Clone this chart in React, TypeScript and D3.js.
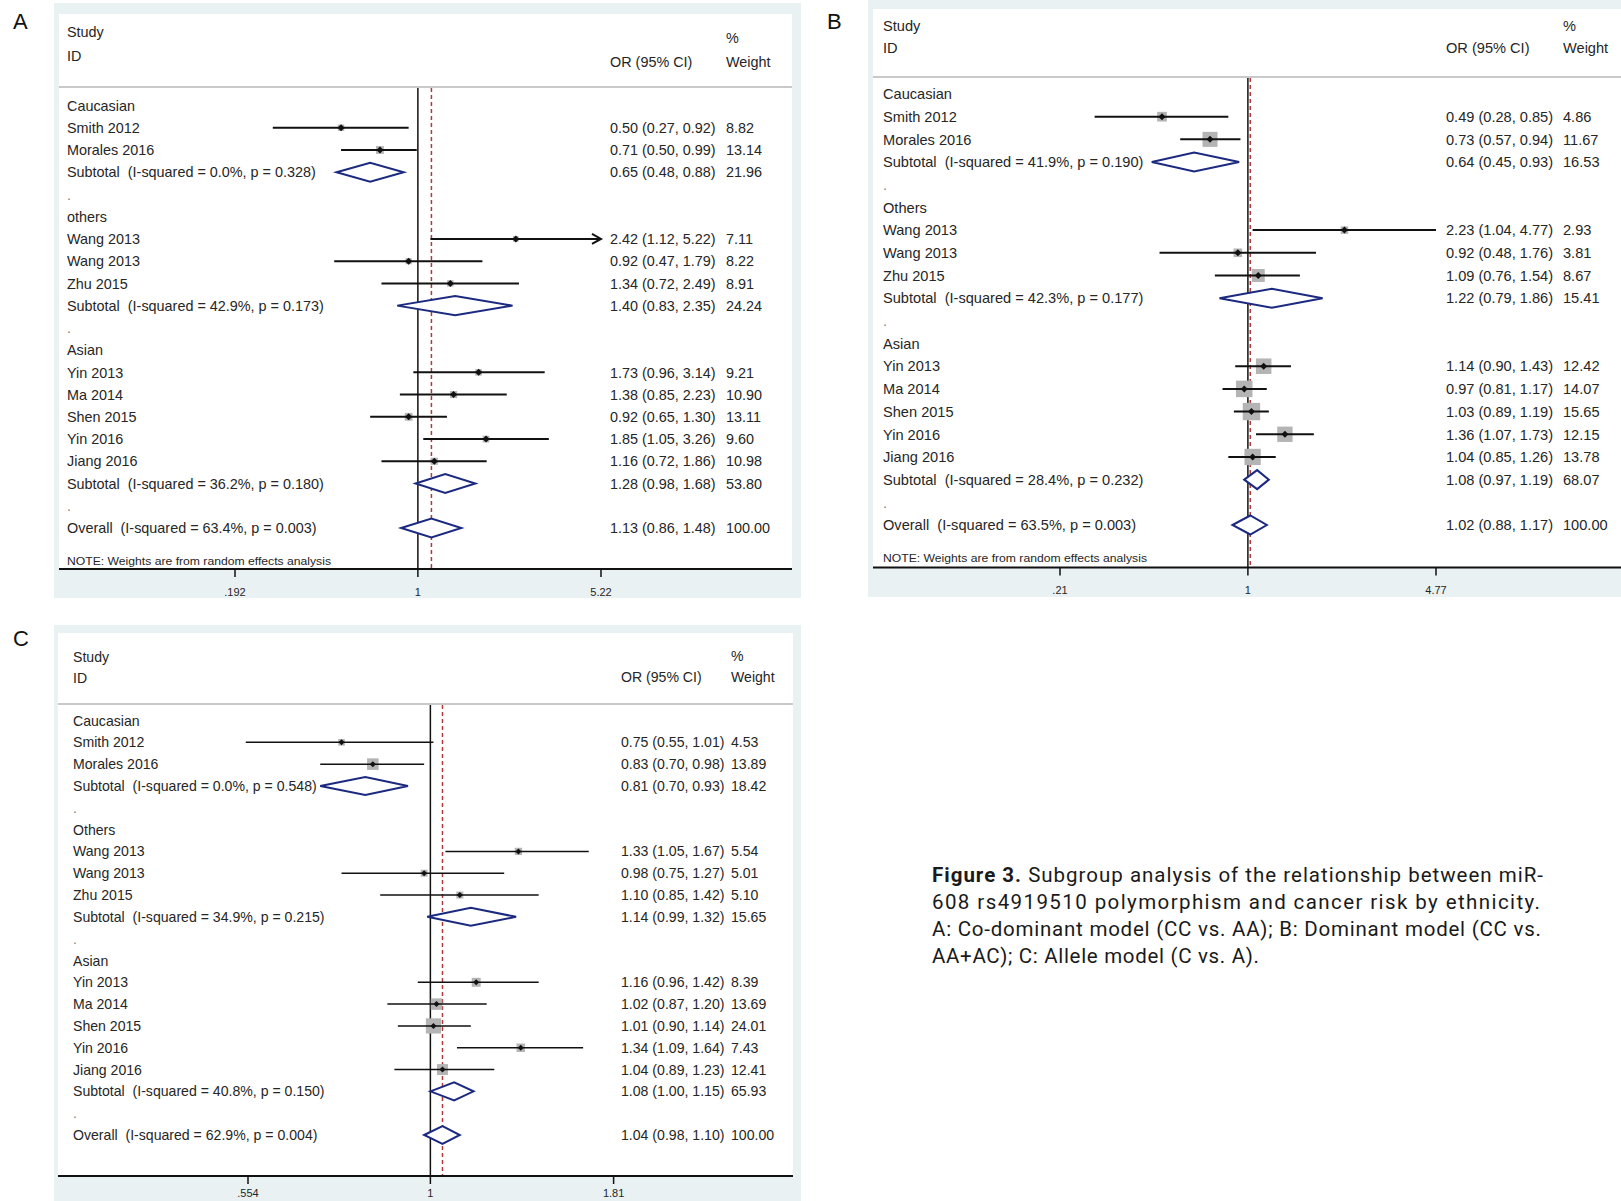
import * as d3 from "d3";
import { useEffect } from "react";

// study labels, shared by the three panels
const groupNamesA = ["Caucasian", "others", "Asian"];
const groupNamesBC = ["Caucasian", "Others", "Asian"];
const studyGroups = [
  ["Smith 2012", "Morales 2016"],
  ["Wang 2013", "Wang 2013", "Zhu 2015"],
  ["Yin 2013", "Ma 2014", "Shen 2015", "Yin 2016", "Jiang 2016"],
];

// A: co-dominant model (CC vs. AA)
const orA = [0.5, 0.71, 2.42, 0.92, 1.34, 1.73, 1.38, 0.92, 1.85, 1.16];
const lowA = [0.27, 0.5, 1.12, 0.47, 0.72, 0.96, 0.85, 0.65, 1.05, 0.72];
const highA = [0.92, 0.99, 5.22, 1.79, 2.49, 3.14, 2.23, 1.3, 3.26, 1.86];
const weightA = [8.82, 13.14, 7.11, 8.22, 8.91, 9.21, 10.9, 13.11, 9.6, 10.98];
const subOrA = [0.65, 1.4, 1.28];
const subLowA = [0.48, 0.83, 0.98];
const subHighA = [0.88, 2.35, 1.68];
const subWeightA = [21.96, 24.24, 53.8];
const subI2A = ["0.0", "42.9", "36.2"];
const subPA = ["0.328", "0.173", "0.180"];
const overallA = [1.13, 0.86, 1.48];
const overallStatA = ["63.4", "0.003"];
const arrowRowsA = [2];
const ticksA = [0.192, 1, 5.22];
const tickLabelsA = [".192", "1", "5.22"];

// B: dominant model (CC vs. AA+AC)
const orB = [0.49, 0.73, 2.23, 0.92, 1.09, 1.14, 0.97, 1.03, 1.36, 1.04];
const lowB = [0.28, 0.57, 1.04, 0.48, 0.76, 0.9, 0.81, 0.89, 1.07, 0.85];
const highB = [0.85, 0.94, 4.77, 1.76, 1.54, 1.43, 1.17, 1.19, 1.73, 1.26];
const weightB = [4.86, 11.67, 2.93, 3.81, 8.67, 12.42, 14.07, 15.65, 12.15, 13.78];
const subOrB = [0.64, 1.22, 1.08];
const subLowB = [0.45, 0.79, 0.97];
const subHighB = [0.93, 1.86, 1.19];
const subWeightB = [16.53, 15.41, 68.07];
const subI2B = ["41.9", "42.3", "28.4"];
const subPB = ["0.190", "0.177", "0.232"];
const overallB = [1.02, 0.88, 1.17];
const overallStatB = ["63.5", "0.003"];
const ticksB = [0.21, 1, 4.77];
const tickLabelsB = [".21", "1", "4.77"];

// C: allele model (C vs. A)
const orC = [0.75, 0.83, 1.33, 0.98, 1.1, 1.16, 1.02, 1.01, 1.34, 1.04];
const lowC = [0.55, 0.7, 1.05, 0.75, 0.85, 0.96, 0.87, 0.9, 1.09, 0.89];
const highC = [1.01, 0.98, 1.67, 1.27, 1.42, 1.42, 1.2, 1.14, 1.64, 1.23];
const weightC = [4.53, 13.89, 5.54, 5.01, 5.1, 8.39, 13.69, 24.01, 7.43, 12.41];
const subOrC = [0.81, 1.14, 1.08];
const subLowC = [0.7, 0.99, 1.0];
const subHighC = [0.93, 1.32, 1.15];
const subWeightC = [18.42, 15.65, 65.93];
const subI2C = ["0.0", "34.9", "40.8"];
const subPC = ["0.548", "0.215", "0.150"];
const overallC = [1.04, 0.98, 1.1];
const overallStatC = ["62.9", "0.004"];
const ticksC = [0.554, 1, 1.81];
const tickLabelsC = [".554", "1", "1.81"];

const captionLines = [
  "Subgroup analysis of the relationship between miR-",
  "608 rs4919510 polymorphism and cancer risk by ethnicity.",
  "A: Co-dominant model (CC vs. AA); B: Dominant model (CC vs.",
  "AA+AC); C: Allele model (C vs. A).",
];
const captionWidths = [611, 608, 609, 327];

const FONT = "'Liberation Sans', Arial, sans-serif";
const fmt = d3.format(".2f");

function Panel({ d, L }) {
  const x = d3.scaleLog().domain([d.ticks[0], d.ticks[2]]).range(L.range);
  const rowY = d3.scaleLinear().domain([0, 19]).range([L.rowFirst, L.rowLast]);

  // build the row list
  const rows = [];
  let k = 0;
  studyGroups.forEach((g, gi) => {
    rows.push({ type: "group", label: d.groups[gi] });
    g.forEach((name) => {
      rows.push({ type: "study", label: name, i: k });
      k++;
    });
    rows.push({
      type: "sub",
      label: `Subtotal  (I-squared = ${d.subI2[gi]}%, p = ${d.subP[gi]})`,
      or: d.subOr[gi], lo: d.subLo[gi], hi: d.subHi[gi], w: d.subW[gi],
    });
    rows.push({ type: "dot", label: "." });
  });
  rows.push({
    type: "sub",
    label: `Overall  (I-squared = ${d.overallStat[0]}%, p = ${d.overallStat[1]})`,
    or: d.overall[0], lo: d.overall[1], hi: d.overall[2], w: 100,
  });

  const txt = { fontFamily: FONT, fontSize: L.fs, fill: "#262626", whiteSpace: "pre" as const };
  const x1 = x(1);
  const xOverall = x(d.overall[0]);
  const diamond = (cx, cy, r) => `M${cx - r},${cy}L${cx},${cy - r}L${cx + r},${cy}L${cx},${cy + r}Z`;

  return (
    <g>
      <rect x={L.ox0} y={L.oy0} width={L.ox1 - L.ox0} height={L.oy1 - L.oy0} fill="#e9f1f3" />
      <rect x={L.wx0} y={L.wy0} width={L.wx1 - L.wx0} height={L.axisY - L.wy0} fill="#ffffff" />
      <text x={L.letterX} y={L.letterY} style={{ fontFamily: FONT, fontSize: 22, fill: "#111" }}>{L.letter}</text>

      <text x={L.labelX} y={L.studyY} dy="0.36em" style={txt}>Study</text>
      <text x={L.labelX} y={L.idY} dy="0.36em" style={txt}>ID</text>
      <text x={L.orX} y={L.orY} dy="0.36em" style={txt}>OR (95% CI)</text>
      <text x={L.wX} y={L.pctY} dy="0.36em" style={txt}>%</text>
      <text x={L.wX} y={L.orY} dy="0.36em" style={txt}>Weight</text>
      <line x1={L.wx0} x2={L.wx1} y1={L.sepY} y2={L.sepY} stroke="#c9c9c9" strokeWidth={2} />

      <line x1={x1} x2={x1} y1={L.sepY + 1} y2={L.axisY} stroke="#111" strokeWidth={1.5} />
      <line x1={xOverall} x2={xOverall} y1={L.sepY + 1} y2={L.axisY} stroke="#b23a3a" strokeWidth={1.5} strokeDasharray="4,3" />

      {rows.map((r, ri) => {
        const y = rowY(ri);
        if (r.type === "group") {
          return <text key={ri} x={L.labelX} y={y} dy="0.36em" style={txt}>{r.label}</text>;
        }
        if (r.type === "dot") {
          return <text key={ri} x={L.labelX} y={y} dy="0.36em" style={{ ...txt, fill: "#888" }}>{r.label}</text>;
        }
        if (r.type === "sub") {
          const path = `M${x(r.lo)},${y}L${x(r.or)},${y - L.dh}L${x(r.hi)},${y}L${x(r.or)},${y + L.dh}Z`;
          return (
            <g key={ri}>
              <text x={L.labelX} y={y} dy="0.36em" style={txt}>{r.label}</text>
              <path d={path} fill="#fff" stroke="#1b2a80" strokeWidth={2} />
              <text x={L.orX} y={y} dy="0.36em" style={txt}>{`${fmt(r.or)} (${fmt(r.lo)}, ${fmt(r.hi)})`}</text>
              <text x={L.wX} y={y} dy="0.36em" style={txt}>{fmt(r.w)}</text>
            </g>
          );
        }
        const i = r.i;
        const side = L.boxK * Math.sqrt(d.w[i]);
        const xo = x(d.or[i]);
        const arrow = d.arrows.includes(i);
        const xh = x(d.hi[i]);
        return (
          <g key={ri}>
            <text x={L.labelX} y={y} dy="0.36em" style={txt}>{r.label}</text>
            <rect x={xo - side / 2} y={y - side / 2} width={side} height={side} fill="#b4b4b4" />
            <line x1={x(d.lo[i])} x2={xh} y1={y} y2={y} stroke="#111" strokeWidth={L.ciW} />
            {arrow && (
              <path d={`M${xh - 9},${y - 5}L${xh},${y}L${xh - 9},${y + 5}`} fill="none" stroke="#111" strokeWidth={L.ciW} />
            )}
            <path d={diamond(xo, y, L.mr)} fill="#111" />
            <text x={L.orX} y={y} dy="0.36em" style={txt}>{`${fmt(d.or[i])} (${fmt(d.lo[i])}, ${fmt(d.hi[i])})`}</text>
            <text x={L.wX} y={y} dy="0.36em" style={txt}>{fmt(d.w[i])}</text>
          </g>
        );
      })}

      {L.noteY && (
        <text x={L.labelX} y={L.noteY} dy="0.36em" textLength={L.noteLen} lengthAdjust="spacingAndGlyphs"
          style={{ fontFamily: FONT, fontSize: 11, fill: "#262626" }}>
          NOTE: Weights are from random effects analysis
        </text>
      )}

      <line x1={L.wx0} x2={L.wx1} y1={L.axisY} y2={L.axisY} stroke="#111" strokeWidth={2} />
      {d.ticks.map((t, ti) => (
        <g key={ti}>
          <line x1={x(t)} x2={x(t)} y1={L.axisY} y2={L.axisY + 8} stroke="#111" strokeWidth={1.5} />
          <text x={x(t)} y={L.axisY + L.tickDy} dy="0.36em" textAnchor="middle"
            style={{ fontFamily: FONT, fontSize: 11, fill: "#262626" }}>{d.tickLabels[ti]}</text>
        </g>
      ))}
    </g>
  );
}

const dataA = {
  groups: groupNamesA, or: orA, lo: lowA, hi: highA, w: weightA,
  subOr: subOrA, subLo: subLowA, subHi: subHighA, subW: subWeightA, subI2: subI2A, subP: subPA,
  overall: overallA, overallStat: overallStatA, arrows: arrowRowsA, ticks: ticksA, tickLabels: tickLabelsA,
};
const dataB = {
  groups: groupNamesBC, or: orB, lo: lowB, hi: highB, w: weightB,
  subOr: subOrB, subLo: subLowB, subHi: subHighB, subW: subWeightB, subI2: subI2B, subP: subPB,
  overall: overallB, overallStat: overallStatB, arrows: [], ticks: ticksB, tickLabels: tickLabelsB,
};
const dataC = {
  groups: groupNamesBC, or: orC, lo: lowC, hi: highC, w: weightC,
  subOr: subOrC, subLo: subLowC, subHi: subHighC, subW: subWeightC, subI2: subI2C, subP: subPC,
  overall: overallC, overallStat: overallStatC, arrows: [], ticks: ticksC, tickLabels: tickLabelsC,
};

const layoutA = {
  letter: "A", letterX: 13, letterY: 29,
  ox0: 54, oy0: 3, ox1: 801, oy1: 598, wx0: 59, wy0: 14, wx1: 792,
  labelX: 67, orX: 610, wX: 726, studyY: 32, idY: 56, pctY: 38, orY: 62, sepY: 87,
  rowFirst: 105.5, rowLast: 528, noteY: 561, noteLen: 264, axisY: 569, tickDy: 23,
  range: [235, 601], boxK: 2.15, ciW: 2, mr: 3.5, dh: 9.5, fs: 14.4,
};
const layoutB = {
  letter: "B", letterX: 827, letterY: 29,
  ox0: 868, oy0: 0, ox1: 1621, oy1: 597, wx0: 873, wy0: 9, wx1: 1621,
  labelX: 883, orX: 1446, wX: 1563, studyY: 26, idY: 48, pctY: 26, orY: 48, sepY: 77,
  rowFirst: 94, rowLast: 525, noteY: 558, noteLen: 264, axisY: 567.5, tickDy: 22.5,
  range: [1060, 1436], boxK: 4.4, ciW: 2, mr: 3.5, dh: 9.5, fs: 14.6,
};
const layoutC = {
  letter: "C", letterX: 13, letterY: 646,
  ox0: 54, oy0: 625, ox1: 801, oy1: 1201, wx0: 58, wy0: 633, wx1: 793,
  labelX: 73, orX: 621, wX: 731, studyY: 657, idY: 678, pctY: 656, orY: 677, sepY: 704,
  rowFirst: 720.5, rowLast: 1135, noteY: null, noteLen: 0, axisY: 1176, tickDy: 17,
  range: [248, 613.6], boxK: 3.1, ciW: 1.5, mr: 3, dh: 9, fs: 14.1,
};

export default function App() {
  useEffect(() => {
    document.body.style.margin = "0";
  }, []);
  const cap = { fontFamily: "Roboto, sans-serif", fontSize: 20.5, fill: "#1a1a1a" };
  return (
    <svg width={1621} height={1201} style={{ position: "absolute", left: 0, top: 0, background: "#fff" }}>
      <Panel d={dataA} L={layoutA} />
      <Panel d={dataB} L={layoutB} />
      <Panel d={dataC} L={layoutC} />
      {captionLines.map((line, i) => (
        <text key={i} x={932} y={882 + i * 26.9} style={cap} textLength={captionWidths[i]} lengthAdjust="spacing">
          {i === 0 && <tspan fontWeight="bold">Figure 3. </tspan>}
          {line}
        </text>
      ))}
    </svg>
  );
}
